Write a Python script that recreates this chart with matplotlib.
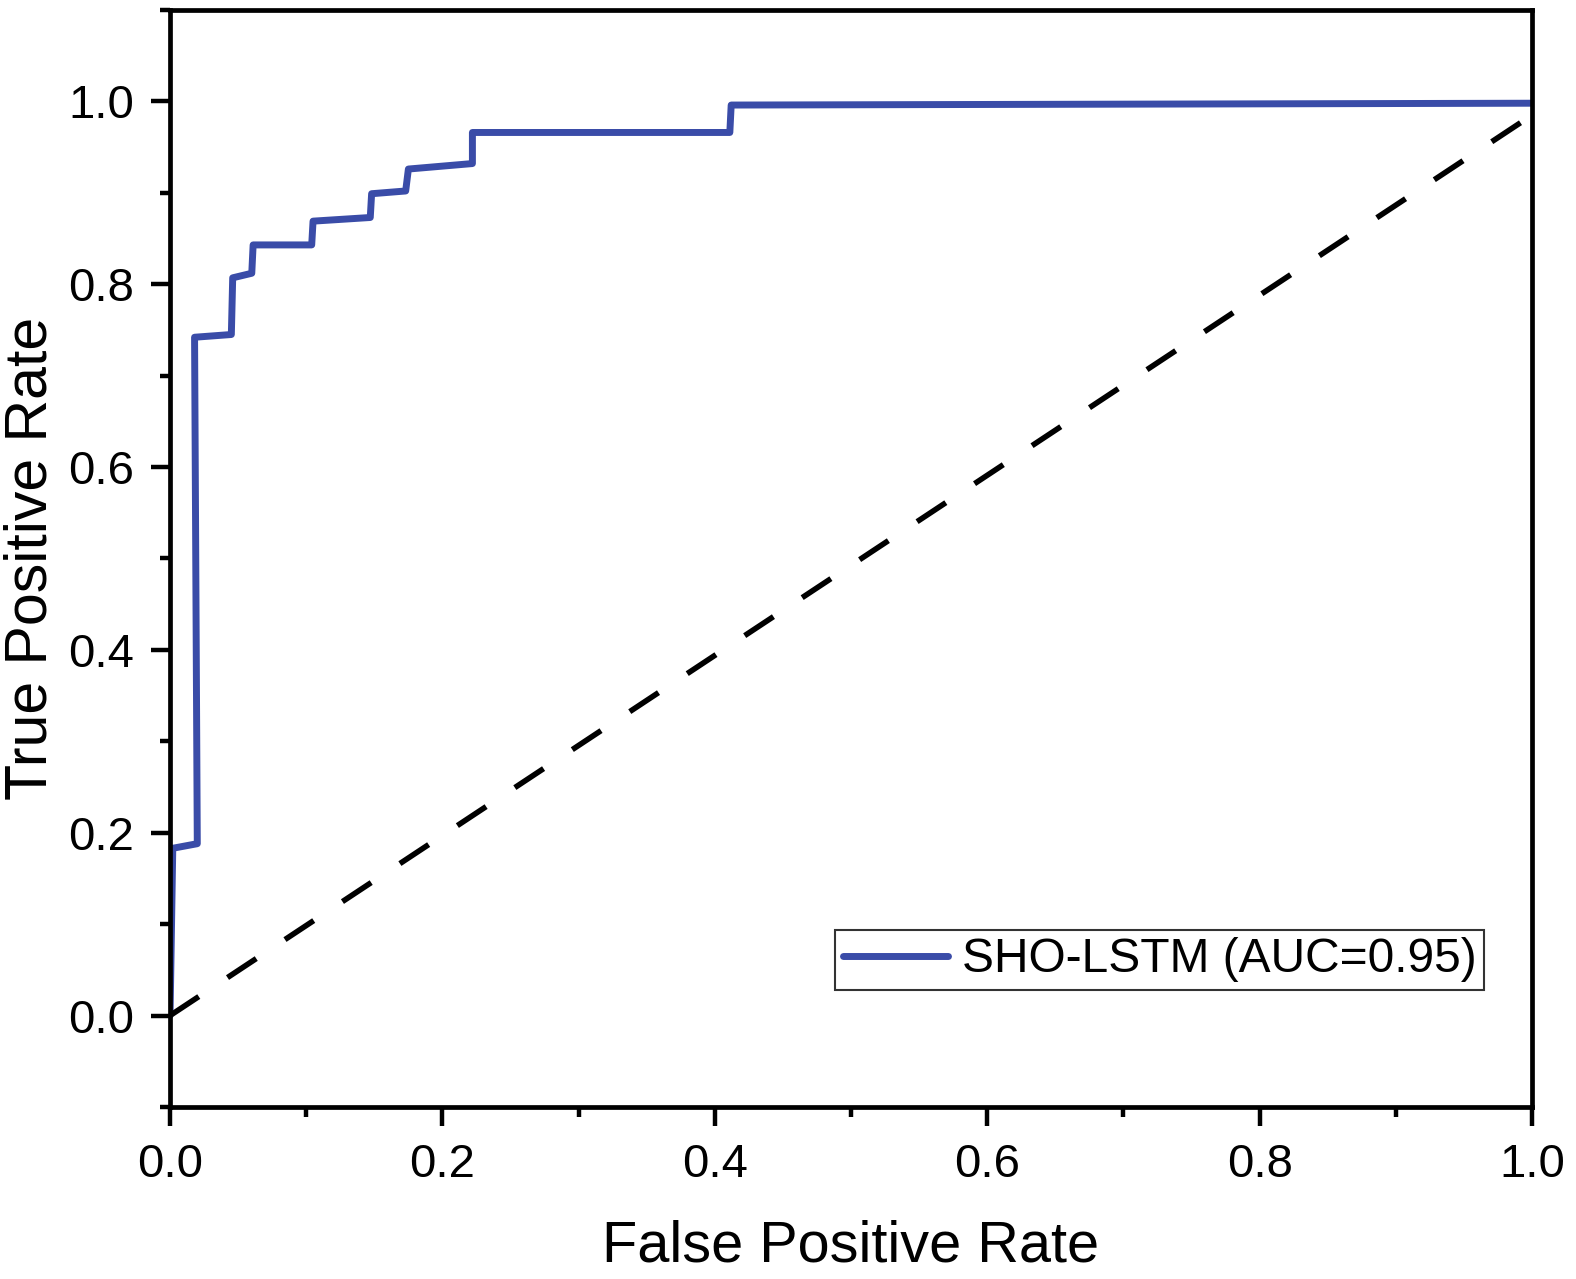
import matplotlib
matplotlib.use('Agg')
import matplotlib.pyplot as plt
from matplotlib.ticker import MultipleLocator

# данные ROC-кривой
fpr = [0.0, 0.002, 0.020, 0.018, 0.045, 0.046, 0.060, 0.061, 0.104, 0.105,
       0.147, 0.148, 0.173, 0.175, 0.222, 0.222, 0.411, 0.412, 1.0]
tpr = [0.0, 0.183, 0.188, 0.742, 0.745, 0.807, 0.812, 0.843, 0.843, 0.869,
       0.873, 0.899, 0.902, 0.926, 0.932, 0.966, 0.966, 0.996, 0.998]
diag_x = [0.0, 1.0]
diag_y = [0.0, 0.985]
label = 'SHO-LSTM (AUC=0.95)'

plt.rcParams['font.family'] = ['Liberation Sans', 'DejaVu Sans']

fig = plt.figure(figsize=(15.76, 12.79), dpi=100)
ax = fig.add_axes([0.1079, 0.1345, 0.8642, 0.8577])

ax.plot(fpr, tpr, color='#3A4CA8', lw=5, label=label,
        solid_joinstyle='round', solid_capstyle='round')
ax.plot(diag_x, diag_y, color='black', lw=4, dashes=(6.2, 6.2))

ax.set_xlim(0, 1)
ax.set_ylim(-0.1, 1.1)
ax.xaxis.set_minor_locator(MultipleLocator(0.1))
ax.yaxis.set_minor_locator(MultipleLocator(0.1))
ax.set_xticks([0, 0.2, 0.4, 0.6, 0.8, 1.0])
ax.set_yticks([0, 0.2, 0.4, 0.6, 0.8, 1.0])
ax.set_xticklabels(['0.0', '0.2', '0.4', '0.6', '0.8', '1.0'])
ax.set_yticklabels(['0.0', '0.2', '0.4', '0.6', '0.8', '1.0'])

for s in ax.spines.values():
    s.set_linewidth(3.4)
ax.tick_params(which='major', direction='out', length=14, width=3.2, labelsize=34, pad=12)
ax.tick_params(which='minor', direction='out', length=7, width=3.2)

ax.set_xlabel('False Positive Rate', fontsize=41.5)
ax.set_ylabel('True Positive Rate', fontsize=42.5)
ax.xaxis.set_label_coords(0.5, -0.103)
ax.yaxis.set_label_coords(-0.082, 0.5)

leg = ax.legend(loc='lower right', bbox_to_anchor=(0.965, 0.107), fontsize=34.5,
                frameon=True, fancybox=False, handlelength=2.2, handletextpad=0.3,
                borderpad=0.15, borderaxespad=0)
leg.get_frame().set_edgecolor('black')
leg.get_frame().set_linewidth(1.5)

plt.savefig('out.png', dpi=100)
